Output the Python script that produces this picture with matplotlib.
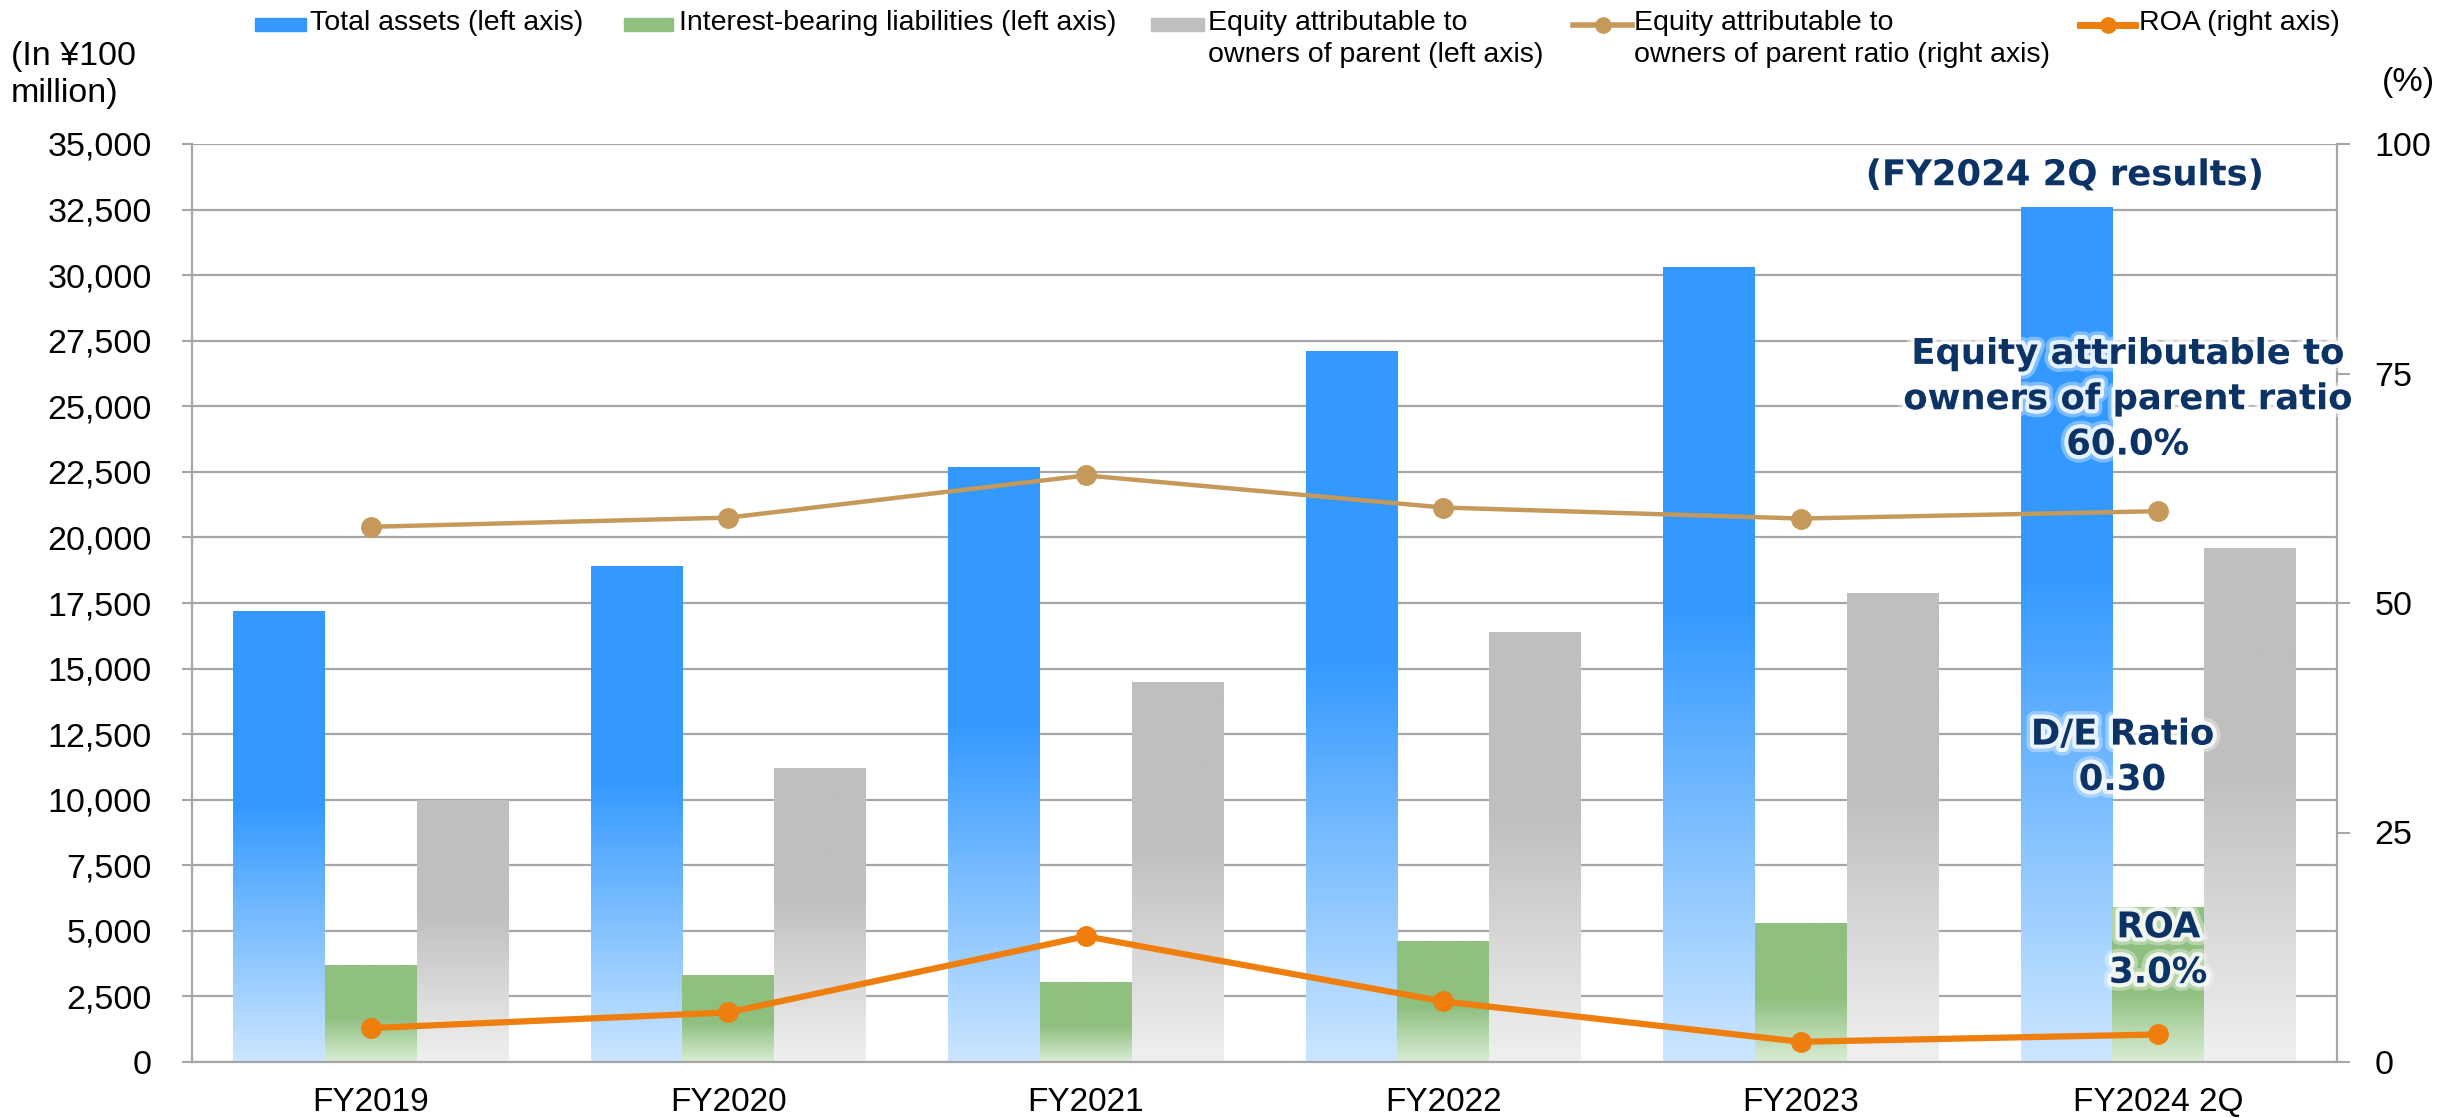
import matplotlib
matplotlib.use("Agg")
import matplotlib.pyplot as plt
import matplotlib.patheffects as pe
import numpy as np
from matplotlib.colors import LinearSegmentedColormap
from matplotlib.lines import Line2D
from matplotlib.patches import Rectangle
from matplotlib.ticker import FuncFormatter

plt.rcParams['font.family'] = ['Liberation Sans', 'DejaVu Sans']

categories = ["FY2019", "FY2020", "FY2021", "FY2022", "FY2023", "FY2024 2Q"]
total_assets = [17200, 18900, 22700, 27100, 30300, 32600]
interest_bearing = [3700, 3300, 3050, 4600, 5300, 5900]
equity_parent = [10000, 11200, 14500, 16400, 17900, 19600]
equity_ratio = [58.3, 59.3, 63.9, 60.4, 59.2, 60.0]
roa = [3.7, 5.4, 13.7, 6.6, 2.2, 3.0]

W, H = 2443, 1118
GRID = '#A6A6A6'
NAVY = '#0C3366'
BLUE, BLUE_L = '#3399FF', '#CCE6FF'
GREEN, GREEN_L = '#8FC080', '#DAEDD4'
GRAY, GRAY_L = '#BFBFBF', '#F0F0F0'
TAN, ORANGE = '#C4995A', '#EE7F0E'

fig = plt.figure(figsize=(W / 100, H / 100), dpi=100)
ax = fig.add_axes([192 / W, 1 - 1062 / H, (2337 - 192) / W, (1062 - 144) / H])
ax2 = ax.twinx()

x = np.arange(len(categories))
bw = 0.256


def grad_bars(xpos, heights, top, bottom, solid_from):
    bars = ax.bar(xpos, heights, width=bw, color=top, linewidth=0, zorder=2)
    cmap = LinearSegmentedColormap.from_list(
        'g', [(0, bottom), (solid_from, top), (1, top)])
    grad = np.linspace(0, 1, 256).reshape(-1, 1)
    for b in bars:
        x0, w, h = b.get_x(), b.get_width(), b.get_height()
        im = ax.imshow(grad, cmap=cmap, origin='lower', aspect='auto',
                       extent=(x0, x0 + w, 0, h), zorder=2.5,
                       interpolation='bilinear')
        im.set_clip_path(b)
    return bars


grad_bars(x - bw, total_assets, BLUE, BLUE_L, 0.57)
grad_bars(x, interest_bearing, GREEN, GREEN_L, 0.45)
grad_bars(x + bw, equity_parent, GRAY, GRAY_L, 0.57)

ax2.plot(x, equity_ratio, color=TAN, lw=3.2, marker='o', ms=14, zorder=3)
ax2.plot(x, roa, color=ORANGE, lw=4.5, marker='o', ms=14, zorder=3)

ax.set_xlim(-0.5, 5.5)
ax.set_ylim(0, 35000)
ax.set_yticks(range(0, 35001, 2500))
ax.yaxis.set_major_formatter(FuncFormatter(lambda v, p: f"{int(v):,}"))
ax.set_xticks(x)
ax.set_xticklabels(categories)
ax.grid(axis='y', color=GRID, lw=1.6)
ax.set_axisbelow(True)
ax.tick_params(axis='y', length=7, width=1.5, color=GRID, labelsize=24.5, pad=22)
ax.tick_params(axis='x', length=0, labelsize=24, pad=18)
for s in ['top', 'right']:
    ax.spines[s].set_visible(False)
for s in ['left', 'bottom']:
    ax.spines[s].set_color(GRID)
    ax.spines[s].set_linewidth(1.6)

ax2.set_ylim(0, 100)
ax2.set_yticks([0, 25, 50, 75, 100])
ax2.tick_params(axis='y', length=9, width=1.5, color=GRID, labelsize=24.5, pad=18)
for s in ['top', 'left', 'bottom']:
    ax2.spines[s].set_visible(False)
ax2.spines['right'].set_color(GRID)
ax2.spines['right'].set_linewidth(1.6)

glow = [pe.Stroke(linewidth=11, foreground='white', alpha=0.35),
        pe.Stroke(linewidth=6, foreground='white', alpha=0.8),
        pe.Normal()]
ann = dict(color=NAVY, fontweight='bold', family='DejaVu Sans', ha='center',
           va='center', path_effects=glow, zorder=10)
ax2.text(4.738, 96.6, "(FY2024 2Q results)", fontsize=25.5, **ann)
ax2.text(4.915, 72.2, "Equity attributable to\nowners of parent ratio\n60.0%",
         fontsize=25.5, linespacing=1.42, **ann)
ax2.text(4.9, 33.2, "D/E Ratio\n0.30", fontsize=25.5, linespacing=1.42, **ann)
ax2.text(5.0, 12.2, "ROA\n3.0%", fontsize=25.5, linespacing=1.42, **ann)

# unit labels
fig.text(11 / W, 1 - 75 / H, "(In ¥100\nmillion)", fontsize=24.5, ha='left',
         va='center', linespacing=1.22)
fig.text(2382 / W, 1 - 83 / H, "(%)", fontsize=24.5, ha='left', va='center')

# legend drawn by hand so the keys sit on the first text line
ly = 25
for x0, x1, col in [(255, 306, BLUE), (624, 673, GREEN), (1151, 1204, GRAY)]:
    fig.add_artist(Rectangle((x0 / W, 1 - (ly + 6) / H), (x1 - x0) / W, 13 / H,
                             color=col, transform=fig.transFigure))
for x0, x1, col, lw in [(1573, 1632, TAN, 4), (2080, 2135, ORANGE, 5)]:
    fig.add_artist(Line2D([x0 / W, x1 / W], [1 - ly / H] * 2, color=col, lw=lw,
                          transform=fig.transFigure))
    fig.add_artist(Line2D([(x0 + x1) / 2 / W], [1 - ly / H], color=col,
                          marker='o', ms=11, transform=fig.transFigure))

legend_labels = [
    (310, "Total assets (left axis)"),
    (679, "Interest-bearing liabilities (left axis)"),
    (1208, "Equity attributable to\nowners of parent (left axis)"),
    (1634, "Equity attributable to\nowners of parent ratio (right axis)"),
    (2139, "ROA (right axis)"),
]
for lx, txt in legend_labels:
    fig.text(lx / W, 1 - (ly - 15) / H, txt, fontsize=20.5, ha='left', va='top',
             linespacing=1.28)

fig.savefig("out.png", dpi=100)
